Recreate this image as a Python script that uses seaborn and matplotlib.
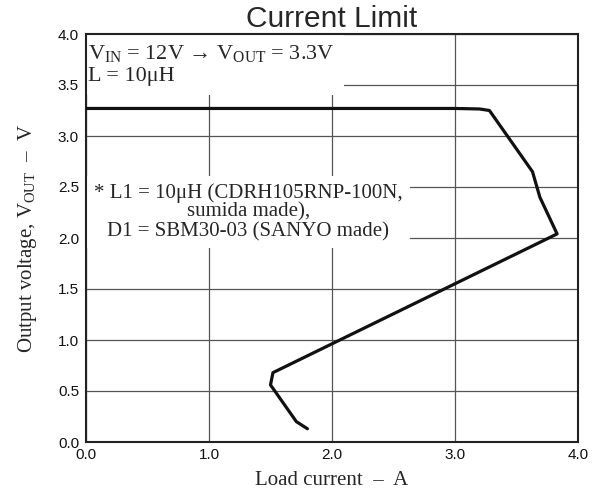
import matplotlib
matplotlib.use("Agg")
import matplotlib.pyplot as plt
import numpy as np
import pandas as pd
import seaborn as sns

# ---- data ----
load_current = [0.0, 3.0, 3.2, 3.28, 3.63, 3.69, 3.83, 1.52, 1.50, 1.71, 1.80]
output_voltage = [3.27, 3.27, 3.265, 3.25, 2.65, 2.40, 2.04, 0.68, 0.56, 0.20, 0.13]
x_ticks = [0.0, 1.0, 2.0, 3.0, 4.0]
y_ticks = [0.0, 0.5, 1.0, 1.5, 2.0, 2.5, 3.0, 3.5, 4.0]
title = "Current Limit"
xlabel = "Load current  \u2013  A"
ylabel = r"Output voltage, V$_{\mathrm{OUT}}$" + "  \u2013  V"
note_top = r"V$_{\mathrm{IN}}$ = 12V " + "\u2192" + r" V$_{\mathrm{OUT}}$ = 3.3V" + "\nL = 10\u03bcH"
note_mid = "* L1 = 10\u03bcH (CDRH105RNP-100N,\nsumida made),\nD1 = SBM30-03 (SANYO made)"

sns.set_style("white")
plt.rcParams["font.family"] = ["Liberation Sans", "DejaVu Sans"]
plt.rcParams["mathtext.fontset"] = "custom"
plt.rcParams["mathtext.rm"] = "Liberation Serif"
plt.rcParams["mathtext.it"] = "Liberation Serif:italic"
plt.rcParams["mathtext.bf"] = "Liberation Serif:bold"

df = pd.DataFrame({"I": load_current, "V": output_voltage})

fig = plt.figure(figsize=(6.01, 4.95), dpi=100)
ax = fig.add_axes([86 / 601, 1 - 442 / 495, 492 / 601, 408 / 495])

sns.lineplot(data=df, x="I", y="V", sort=False, estimator=None, ax=ax,
             color="#111111", linewidth=2.3, zorder=3)

ax.set_xlim(0, 4)
ax.set_ylim(0, 4)
ax.set_xticks(x_ticks)
ax.set_xticklabels([f"{v:.1f}" for v in x_ticks])
ax.set_yticks(y_ticks)
ax.set_yticklabels([f"{v:.1f}" for v in y_ticks])
ax.tick_params(axis="both", length=0, labelsize=11, colors="#111111")
ax.tick_params(axis="x", pad=4)
ax.tick_params(axis="y", pad=5)
ax.set_axisbelow(True)
ax.grid(True, color="#555555", linewidth=0.9)

for s in ax.spines.values():
    s.set_visible(True)
    s.set_color("#222222")
    s.set_linewidth(1.5)

serif = ["Liberation Serif", "DejaVu Serif"]
ax.set_title(title, fontsize=21.5, pad=5, family=["Liberation Sans", "DejaVu Sans"])
ax.set_xlabel(xlabel, fontsize=15, family=serif, labelpad=7)
ax.set_ylabel(ylabel, fontsize=15, family=serif)
ax.yaxis.set_label_coords(-0.096, 0.5)

ax.text(0.02, 3.915, note_top, fontsize=16, family=serif, ha="left", va="top",
        linespacing=1.25, zorder=1,
        bbox=dict(boxstyle="square,pad=0.4", fc="white", ec="none"))
ax.text(1.32, 2.255, note_mid, fontsize=15, family=serif, ha="center", va="center",
        multialignment="center", linespacing=1.0, zorder=1,
        bbox=dict(boxstyle="square,pad=0.35", fc="white", ec="none"))

fig.savefig("out.png", dpi=100)
